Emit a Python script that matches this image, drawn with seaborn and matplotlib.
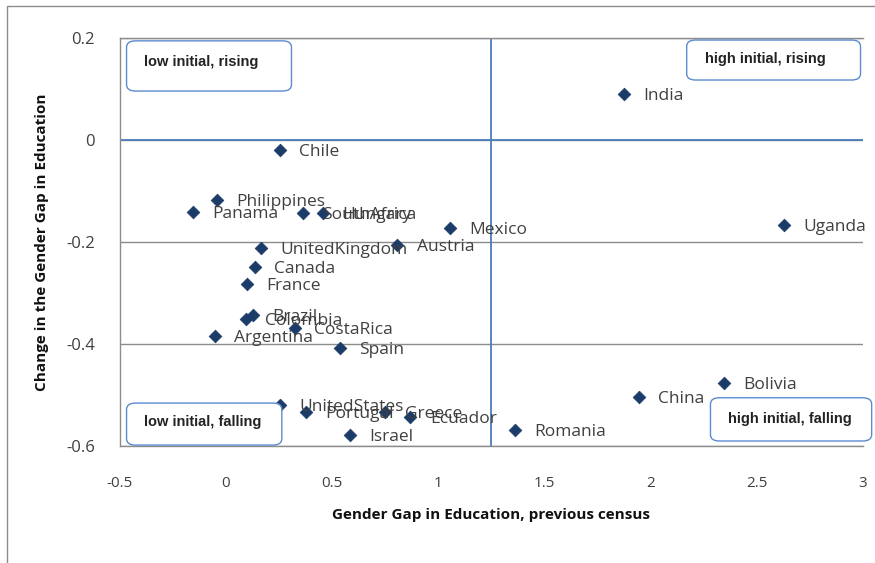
import matplotlib
matplotlib.use('Agg')
import matplotlib.pyplot as plt
import seaborn as sns
import pandas as pd
from matplotlib.patches import FancyBboxPatch, Rectangle

# data
countries = ['India', 'Chile', 'Philippines', 'Panama', 'SouthAfrica', 'Hungary',
             'Mexico', 'Uganda', 'Austria', 'UnitedKingdom', 'Canada', 'France',
             'Brazil', 'Colombia', 'CostaRica', 'Argentina', 'Spain', 'UnitedStates',
             'Portugal', 'Greece', 'Ecuador', 'Israel', 'Romania', 'China', 'Bolivia']
gap_prev = [1.873, 0.254, -0.042, -0.155, 0.362, 0.455,
            1.056, 2.629, 0.808, 0.164, 0.136, 0.099,
            0.127, 0.094, 0.324, -0.052, 0.535, 0.254,
            0.376, 0.751, 0.869, 0.582, 1.361, 1.944, 2.347]
gap_change = [0.090, -0.020, -0.118, -0.141, -0.143, -0.143,
              -0.173, -0.167, -0.206, -0.212, -0.249, -0.283,
              -0.343, -0.351, -0.368, -0.384, -0.408, -0.520,
              -0.533, -0.533, -0.543, -0.578, -0.569, -0.504, -0.476]
x_ticks = [-0.5, 0, 0.5, 1, 1.5, 2, 2.5, 3]
x_tick_labels = ['-0.5', '0', '0.5', '1', '1.5', '2', '2.5', '3']
y_ticks = [-0.6, -0.4, -0.2, 0, 0.2]
y_tick_labels = ['-0.6', '-0.4', '-0.2', '0', '0.2']
x_split = 1.25
quadrants = ['low initial, rising', 'high initial, rising',
             'low initial, falling', 'high initial, falling']

df = pd.DataFrame({'country': countries, 'x': gap_prev, 'y': gap_change})

sns.set_theme(style='white')
plt.rcParams['font.family'] = ['Open Sans', 'DejaVu Sans']

fig = plt.figure(figsize=(8.75, 5.63), dpi=100)
ax = fig.add_axes([0.137, 0.208, 0.849, 0.7245])

sns.scatterplot(data=df, x='x', y='y', marker='D', s=42, color='#1B3B68',
                edgecolor='#1B3B68', linewidth=0.5, ax=ax, zorder=3)

# country labels, right of each marker
for _, r in df.iterrows():
    ax.annotate(r['country'], (r['x'], r['y']), xytext=(14, -1.5),
                textcoords='offset points', ha='left', va='center',
                fontsize=12.5, color='#404040', zorder=4,
                family=['Open Sans', 'DejaVu Sans'], annotation_clip=False)

ax.set_xlim(-0.5, 3)
ax.set_ylim(-0.6, 0.2)
ax.set_xticks(x_ticks)
ax.set_xticklabels(x_tick_labels, fontsize=11, color='#404040')
ax.set_yticks(y_ticks)
ax.set_yticklabels(y_tick_labels, fontsize=12, color='#404040')
ax.tick_params(axis='x', length=0, pad=22)
ax.tick_params(axis='y', length=0, pad=18)

ax.yaxis.grid(True, color='#8C8C8C', linewidth=1)
ax.xaxis.grid(False)
for side in ['left', 'bottom', 'top']:
    ax.spines[side].set_color('#8C8C8C')
    ax.spines[side].set_linewidth(1)
ax.spines['right'].set_visible(False)

ax.axhline(0, color='#4A7EBB', linewidth=1.3, zorder=2)
ax.axvline(x_split, color='#4A7EBB', linewidth=1.3, zorder=2)

ax.set_xlabel('Gender Gap in Education, previous census', fontsize=11,
              fontweight='bold', labelpad=12, color='#111111')
ax.set_ylabel('Change in the Gender Gap in Education', fontsize=11,
              fontweight='bold', labelpad=12, color='#111111')

# quadrant boxes (axes fraction positions)
boxes = [(0.009, 0.870, 0.222, 0.123), (0.763, 0.897, 0.234, 0.098),
         (0.009, 0.002, 0.209, 0.103), (0.795, 0.012, 0.217, 0.106)]
text_y = [0.58, 0.52, 0.54, 0.50]
for (bx, by, bw, bh), ty, txt in zip(boxes, text_y, quadrants):
    ax.add_patch(FancyBboxPatch((bx, by), bw, bh, transform=ax.transAxes,
                                boxstyle='round,pad=0,rounding_size=0.012',
                                facecolor='white', edgecolor='#5B8BD0',
                                linewidth=1, zorder=5, clip_on=False,
                                mutation_aspect=1.3))
    ax.text(bx + 0.024, by + bh * ty, txt, transform=ax.transAxes,
            fontsize=10.5, fontweight='bold', ha='left', va='center',
            color='#222222', zorder=6,
            family=['Liberation Sans', 'DejaVu Sans'])

fig.patches.append(Rectangle((0.008, -0.01), 1.1, 1.0, transform=fig.transFigure,
                             fill=False, edgecolor='#8C8C8C', linewidth=1))

fig.savefig('out.png', dpi=100)
